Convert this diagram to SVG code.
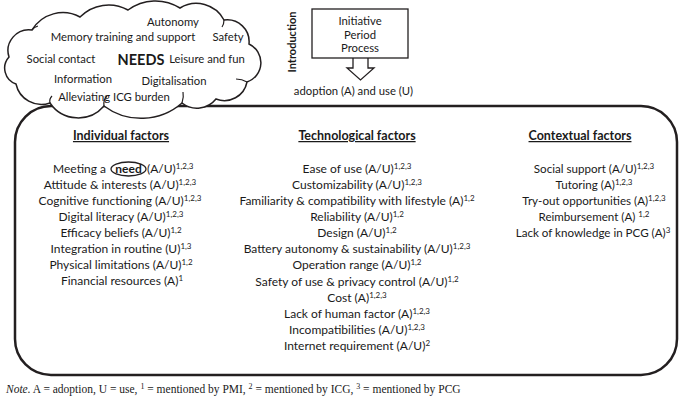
<svg xmlns="http://www.w3.org/2000/svg" width="685" height="409" viewBox="0 0 685 409">
<style>
text{font-family:Lato,"Liberation Sans",sans-serif;fill:#1a1a1a}
.c{font-size:11.3px;text-anchor:middle}
.t{font-size:12px;text-anchor:middle}
.tc{font-size:11.6px;text-anchor:middle}
.hd{font-size:12.5px;font-weight:bold;text-anchor:middle;text-decoration:underline}
.sup{font-size:8px}
.ln{fill:none;stroke:#231f20}
.note{font-family:"Liberation Serif",serif;font-size:11.5px}
</style>
<g id="factors-box">
<rect class="ln" x="15" y="106" width="662" height="269" rx="36" ry="36" stroke-width="2.5"/>
</g>
<g id="needs-cloud">
<path d="M32,30 A36,36 0 0 1 80,17 A40,40 0 0 1 128,10 A46,46 0 0 1 180,8 A31.4,31.4 0 0 1 224,20 A22,22 0 0 1 249,44 A20.5,20.5 0 0 1 247,82 A23,23 0 0 1 216,99 A24.4,24.4 0 0 1 182,103 A62,62 0 0 1 104,106 A34,34 0 0 1 50,103 A26,26 0 0 1 16,84 A16.7,16.7 0 0 1 9,57 A20.9,20.9 0 0 1 32,30 Z" fill="#fff" stroke="#231f20" stroke-width="1.5"/>
<path class="ln" stroke-width="1.2" d="M32,30 Q34,27 38,26 M182,103 Q184,97 183,92 M104,106 Q103,100 107,96 M50,103 Q49,99 52,96 M247,82 Q242,79 236,79 M224,20 Q224,24 222,27"/>
<text class="c" x="173" y="26">Autonomy</text>
<text class="c" x="123" y="41">Memory training and support</text>
<text class="c" x="228" y="41">Safety</text>
<text class="c" x="61" y="63">Social contact</text>
<text x="141" y="65" style="font-size:14.5px;font-weight:bold;text-anchor:middle">NEEDS</text>
<text class="c" x="207" y="63">Leisure and fun</text>
<text class="c" x="83" y="83">Information</text>
<text class="c" x="174" y="85">Digitalisation</text>
<text class="c" x="114" y="101">Alleviating ICG burden</text>
</g>
<g id="introduction">
<rect class="ln" x="312" y="9" width="96" height="49" stroke-width="1.3" fill="#fff"/>
<text class="c" x="360" y="25">Initiative</text>
<text class="c" x="360" y="38.5">Period</text>
<text class="c" x="360" y="52">Process</text>
<text transform="translate(296,42) rotate(-90)" style="font-size:11px;font-weight:bold;text-anchor:middle">Introduction</text>
<text class="c" x="353.5" y="95">adoption (A) and use (U)</text>
</g>
<g id="connectors">
<path class="ln" stroke-width="1.3" fill="#fff" d="M353,58 L353,68 L347,68 L360.5,80 L374,68 L368,68 L368,58"/>
</g>
<g id="individual-factors">
<text class="hd" x="121" y="140">Individual factors</text>
<text x="106" y="173" style="font-size:12px;text-anchor:end">Meeting a</text>
<ellipse class="ln" cx="128.5" cy="169" rx="17.5" ry="7" stroke-width="1.3"/>
<text x="128.5" y="173" style="font-size:12px;font-weight:bold;text-anchor:middle">need</text>
<text x="147" y="173" style="font-size:12px">(A/U)<tspan class="sup" dy="-4">1,2,3</tspan></text>
<text class="t" x="120" y="189">Attitude &amp; interests (A/U)<tspan class="sup" dy="-4">1,2,3</tspan></text>
<text class="t" x="120" y="205">Cognitive functioning (A/U)<tspan class="sup" dy="-4">1,2,3</tspan></text>
<text class="t" x="121" y="221">Digital literacy (A/U)<tspan class="sup" dy="-4">1,2,3</tspan></text>
<text class="t" x="121" y="237">Efficacy beliefs (A/U)<tspan class="sup" dy="-4">1,2</tspan></text>
<text class="t" x="121" y="253">Integration in routine (U)<tspan class="sup" dy="-4">1,3</tspan></text>
<text class="t" x="121" y="269">Physical limitations (A/U)<tspan class="sup" dy="-4">1,2</tspan></text>
<text class="t" x="122" y="285">Financial resources (A)<tspan class="sup" dy="-4">1</tspan></text>
</g>
<g id="technological-factors">
<text class="hd" x="357" y="140">Technological factors</text>
<text class="t" x="357" y="173">Ease of use (A/U)<tspan class="sup" dy="-4">1,2,3</tspan></text>
<text class="t" x="357" y="189">Customizability (A/U)<tspan class="sup" dy="-4">1,2,3</tspan></text>
<text class="t" x="357" y="205">Familiarity &amp; compatibility with lifestyle (A)<tspan class="sup" dy="-4">1,2</tspan></text>
<text class="t" x="357" y="221">Reliability (A/U)<tspan class="sup" dy="-4">1,2</tspan></text>
<text class="t" x="357" y="237">Design (A/U)<tspan class="sup" dy="-4">1,2</tspan></text>
<text class="t" x="357" y="253">Battery autonomy &amp; sustainability (A/U)<tspan class="sup" dy="-4">1,2,3</tspan></text>
<text class="t" x="357" y="269">Operation range (A/U)<tspan class="sup" dy="-4">1,2</tspan></text>
<text class="t" x="357" y="286">Safety of use &amp; privacy control (A/U)<tspan class="sup" dy="-4">1,2</tspan></text>
<text class="t" x="357" y="302">Cost (A)<tspan class="sup" dy="-4">1,2,3</tspan></text>
<text class="t" x="357" y="318">Lack of human factor (A)<tspan class="sup" dy="-4">1,2,3</tspan></text>
<text class="t" x="357" y="334">Incompatibilities (A/U)<tspan class="sup" dy="-4">1,2,3</tspan></text>
<text class="t" x="357" y="350">Internet requirement (A/U)<tspan class="sup" dy="-4">2</tspan></text>
</g>
<g id="contextual-factors">
<text class="hd" x="580" y="140">Contextual factors</text>
<text class="tc" x="594" y="173">Social support (A/U)<tspan class="sup" dy="-4">1,2,3</tspan></text>
<text class="tc" x="594" y="189">Tutoring (A)<tspan class="sup" dy="-4">1,2,3</tspan></text>
<text class="tc" x="594" y="205">Try-out opportunities (A)<tspan class="sup" dy="-4">1,2,3</tspan></text>
<text class="tc" x="594" y="221">Reimbursement (A) <tspan class="sup" dy="-4">1,2</tspan></text>
<text class="tc" x="593" y="237">Lack of knowledge in PCG (A)<tspan class="sup" dy="-4">3</tspan></text>
</g>
<g id="note">
<text class="note" x="6" y="393"><tspan font-style="italic">Note.</tspan> A = adoption, U = use, <tspan class="sup" dy="-4">1</tspan><tspan dy="4"> = mentioned by PMI, </tspan><tspan class="sup" dy="-4">2</tspan><tspan dy="4"> = mentioned by ICG, </tspan><tspan class="sup" dy="-4">3</tspan><tspan dy="4"> = mentioned by PCG</tspan></text>
</g>
</svg>
